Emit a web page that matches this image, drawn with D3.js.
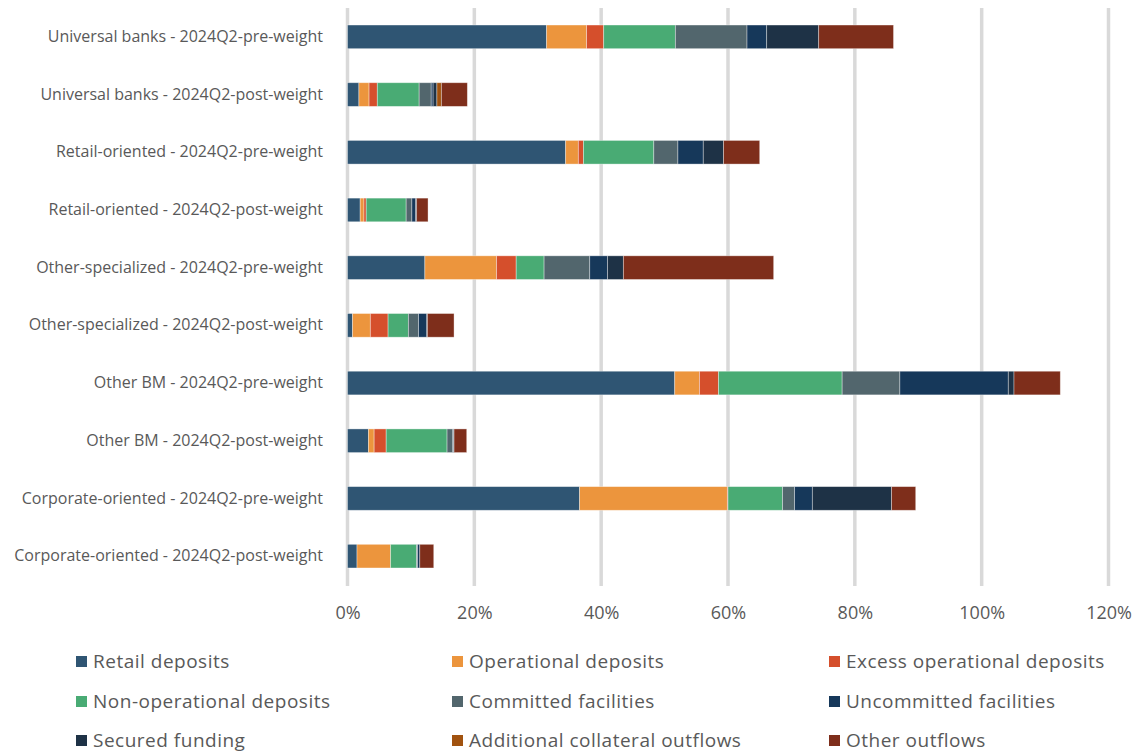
<!DOCTYPE html>
<html>
<head>
<meta charset="utf-8">
<script src="https://cdn.jsdelivr.net/npm/d3@7"></script>
<style>
  html, body { margin: 0; padding: 0; background: #fff; }
  svg { display: block; }
  text { font-family: "Open Sans", "Liberation Sans", sans-serif; fill: #595959; }
</style>
</head>
<body>
<svg id="chart" width="1146" height="753"></svg>
<script>
// ---- Data ----
const categories = [
  "Universal banks - 2024Q2-pre-weight",
  "Universal banks - 2024Q2-post-weight",
  "Retail-oriented - 2024Q2-pre-weight",
  "Retail-oriented - 2024Q2-post-weight",
  "Other-specialized - 2024Q2-pre-weight",
  "Other-specialized - 2024Q2-post-weight",
  "Other BM - 2024Q2-pre-weight",
  "Other BM - 2024Q2-post-weight",
  "Corporate-oriented - 2024Q2-pre-weight",
  "Corporate-oriented - 2024Q2-post-weight"
];
const seriesNames = [
  "Retail deposits", "Operational deposits", "Excess operational deposits",
  "Non-operational deposits", "Committed facilities", "Uncommitted facilities",
  "Secured funding", "Additional collateral outflows", "Other outflows"
];
const retailDeposits        = [31.4, 1.8, 34.4, 2.0, 12.2, 0.8, 51.6, 3.3, 36.6, 1.5];
const operationalDeposits   = [6.3, 1.6, 2.0, 0.6, 11.3, 2.8, 3.9, 0.9, 23.3, 5.3];
const excessOperational     = [2.7, 1.3, 0.8, 0.35, 3.1, 2.8, 3.0, 1.9, 0.1, 0.0];
const nonOperational        = [11.3, 6.6, 11.1, 6.3, 4.4, 3.2, 19.5, 9.6, 8.6, 4.1];
const committedFacilities   = [11.3, 1.9, 3.8, 0.9, 7.2, 1.6, 9.1, 0.9, 1.9, 0.15];
const uncommittedFacilities = [3.1, 0.3, 4.0, 0.6, 2.8, 1.3, 17.1, 0.1, 2.8, 0.35];
const securedFunding        = [8.2, 0.6, 3.2, 0.15, 2.5, 0.1, 0.9, 0.1, 12.5, 0.0];
const additionalCollateral  = [0, 0.7, 0, 0, 0, 0, 0, 0, 0, 0];
const otherOutflows         = [11.8, 4.1, 5.7, 1.8, 23.7, 4.2, 7.3, 2.0, 3.8, 2.2];
const tickValues = [0, 20, 40, 60, 80, 100, 120];
const colors = ["#2F5573", "#EC953D", "#D54F2C", "#49AB74", "#52666D",
                "#16385A", "#1E3246", "#A1520F", "#7E2E1B"];

const seriesValues = [retailDeposits, operationalDeposits, excessOperational,
  nonOperational, committedFacilities, uncommittedFacilities, securedFunding,
  additionalCollateral, otherOutflows];

// ---- Build table ----
const table = categories.map((c, i) => {
  const row = { category: c };
  seriesNames.forEach((s, j) => row[s] = seriesValues[j][i]);
  return row;
});
const stacked = d3.stack().keys(seriesNames)(table);

const svg = d3.select("#chart");
const x = d3.scaleLinear().domain([0, 120]).range([347.5, 1108.5]);
const y = d3.scaleBand().domain(categories).range([8, 585]).padding(0);
const barH = y.bandwidth() * 0.41;
const color = d3.scaleOrdinal().domain(seriesNames).range(colors);

// gridlines
svg.append("g").selectAll("line").data(tickValues).join("line")
  .attr("x1", d => x(d)).attr("x2", d => x(d))
  .attr("y1", 8).attr("y2", 586)
  .attr("stroke", "#d9d9d9").attr("stroke-width", 3.5);

// bars
svg.append("g").selectAll("g").data(stacked).join("g")
  .attr("fill", d => color(d.key))
  .selectAll("rect").data(d => d).join("rect")
  .attr("x", d => x(d[0]))
  .attr("width", d => Math.max(0, x(d[1]) - x(d[0])))
  .attr("y", d => y(d.data.category) + (y.bandwidth() - barH) / 2)
  .attr("height", barH)
  .attr("stroke", "rgba(255,255,255,0.45)")
  .attr("stroke-width", d => (d[1] - d[0]) > 0 ? 0.8 : 0);

// x axis labels
const xAxis = d3.axisBottom(x).tickValues(tickValues).tickFormat(d => d + "%").tickSize(0);
const gx = svg.append("g").attr("transform", "translate(0,600)").call(xAxis);
gx.select(".domain").remove();
gx.selectAll("text").attr("dy", null).attr("y", 19)
  .style("font-size", "18px").style("font-family", "'Open Sans', sans-serif").attr("fill", "#595959");

// y axis labels
const yAxis = d3.axisLeft(y).tickSize(0);
const gy = svg.append("g").attr("transform", "translate(323,0)").call(yAxis);
gy.select(".domain").remove();
gy.selectAll("text").attr("x", 0).attr("dy", "0.32em")
  .style("font-size", "16px").style("font-family", "'Open Sans', sans-serif").attr("fill", "#595959");

// legend
const colX = [76, 452, 829];
const rowY = [668, 708, 747];
const leg = svg.append("g").selectAll("g").data(seriesNames).join("g")
  .attr("transform", (d, i) => `translate(${colX[i % 3]},${rowY[Math.floor(i / 3)]})`);
leg.append("rect").attr("x", 0).attr("y", -12).attr("width", 11).attr("height", 11)
  .attr("fill", d => color(d));
leg.append("text").attr("x", 17).attr("y", 0).text(d => d)
  .style("font-size", "19px").style("letter-spacing", "0.5px");
</script>
</body>
</html>
